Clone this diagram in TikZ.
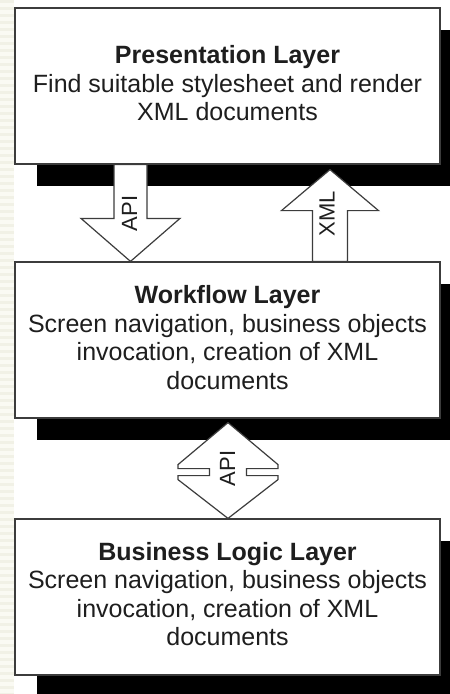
\documentclass[tikz,border=0pt]{standalone}
\usepackage{fontspec}
\setmainfont{Liberation Sans}
\usetikzlibrary{calc,shadows}

\definecolor{edge}{HTML}{3C3C3C}
\definecolor{ink}{HTML}{1E1E1E}
\definecolor{stripA}{HTML}{FAFAF3}
\definecolor{stripB}{HTML}{F1F1E6}

\tikzset{
  layerbox/.style={draw=edge, line width=1.2pt, fill=white,
    minimum width=425pt, minimum height=156pt, inner sep=0pt,
    general shadow={fill=black, shadow xshift=22pt, shadow yshift=-22pt}},
  layertext/.style={align=center, text=ink, inner sep=0pt,
    font=\fontsize{25}{28.5}\selectfont},
  blockarrow/.style={draw=edge, line width=1.2pt, fill=white, line join=miter},
  arrowlabel/.style={rotate=90, text=ink, inner sep=0pt,
    font=\fontsize{22}{24}\selectfont}
}

\begin{document}
\begin{tikzpicture}[x=1pt, y=-1pt]
  \clip (0,0) rectangle (450,694);
  \fill[white] (0,0) rectangle (450,694);

  % faint striped margin on the left
  \fill[stripA] (0,0) rectangle (14,694);
  \foreach \i in {0,...,99}
    \fill[stripB] (0,{\i*7}) rectangle (14,{\i*7+3});

  % the three layers
  \node[layerbox] (b1) at (227.5,86) {};
  \node[layerbox] (b2) at (227.5,340) {};
  \node[layerbox] (b3) at (227.5,597) {};

  \node[layertext] (t1) at ($(b1.center)+(0,-2.5)$)
    {\textbf{Presentation Layer}\\Find suitable stylesheet and render\\XML documents};
  \node[layertext] (t2) at ($(b2.center)+(0,-2.5)$)
    {\textbf{Workflow Layer}\\Screen navigation, business objects\\invocation, creation of XML\\documents};
  \node[layertext] (t3) at ($(b3.center)+(0,-3)$)
    {\textbf{Business Logic Layer}\\Screen navigation, business objects\\invocation, creation of XML\\documents};

  % API call: presentation -> workflow
  \coordinate (apiTop) at (130.5,0 |- b1.south);
  \coordinate (apiTip) at (130.5,0 |- b2.north);
  \draw[blockarrow]
    ($(apiTop)+(-16.5,0)$) -- ($(apiTip)+(-16.5,-43)$) -- ($(apiTip)+(-49.5,-43)$)
    -- (apiTip) -- ($(apiTip)+(49.5,-43)$) -- ($(apiTip)+(16.5,-43)$)
    -- ($(apiTop)+(16.5,0)$) -- cycle;
  \node[arrowlabel] (apiA) at (129.5,213.5) {API};

  % XML result: workflow -> presentation
  \coordinate (xmlTip) at ($(330,0 |- b1.south)+(0,5)$);
  \coordinate (xmlBase) at (330,0 |- b2.north);
  \draw[blockarrow]
    (xmlTip) -- ($(xmlTip)+(48.5,41)$) -- ($(xmlTip)+(17.5,41)$)
    -- ($(xmlBase)+(17.5,0)$) -- ($(xmlBase)+(-17.5,0)$)
    -- ($(xmlTip)+(-17.5,41)$) -- ($(xmlTip)+(-48.5,41)$) -- cycle;
  \node[arrowlabel] (xmlA) at (327,213.5) {XML};

  % two-way API between workflow and business logic
  \coordinate (dTop) at ($(228,0 |- b2.south)+(0,4)$);
  \coordinate (dBot) at (228,0 |- b3.north);
  \draw[blockarrow]
    (dTop) -- ($(dTop)+(50,42)$) -- ($(dTop)+(50,46)$) -- ($(dTop)+(18.5,46)$)
    -- ($(dTop)+(18.5,53)$) -- ($(dTop)+(50,53)$) -- ($(dTop)+(50,57)$)
    -- (dBot) -- ($(dTop)+(-50,57)$) -- ($(dTop)+(-50,53)$) -- ($(dTop)+(-18.5,53)$)
    -- ($(dTop)+(-18.5,46)$) -- ($(dTop)+(-50,46)$) -- ($(dTop)+(-50,42)$) -- cycle;
  \node[arrowlabel] (apiB) at (227.5,468.5) {API};
\end{tikzpicture}
\end{document}
